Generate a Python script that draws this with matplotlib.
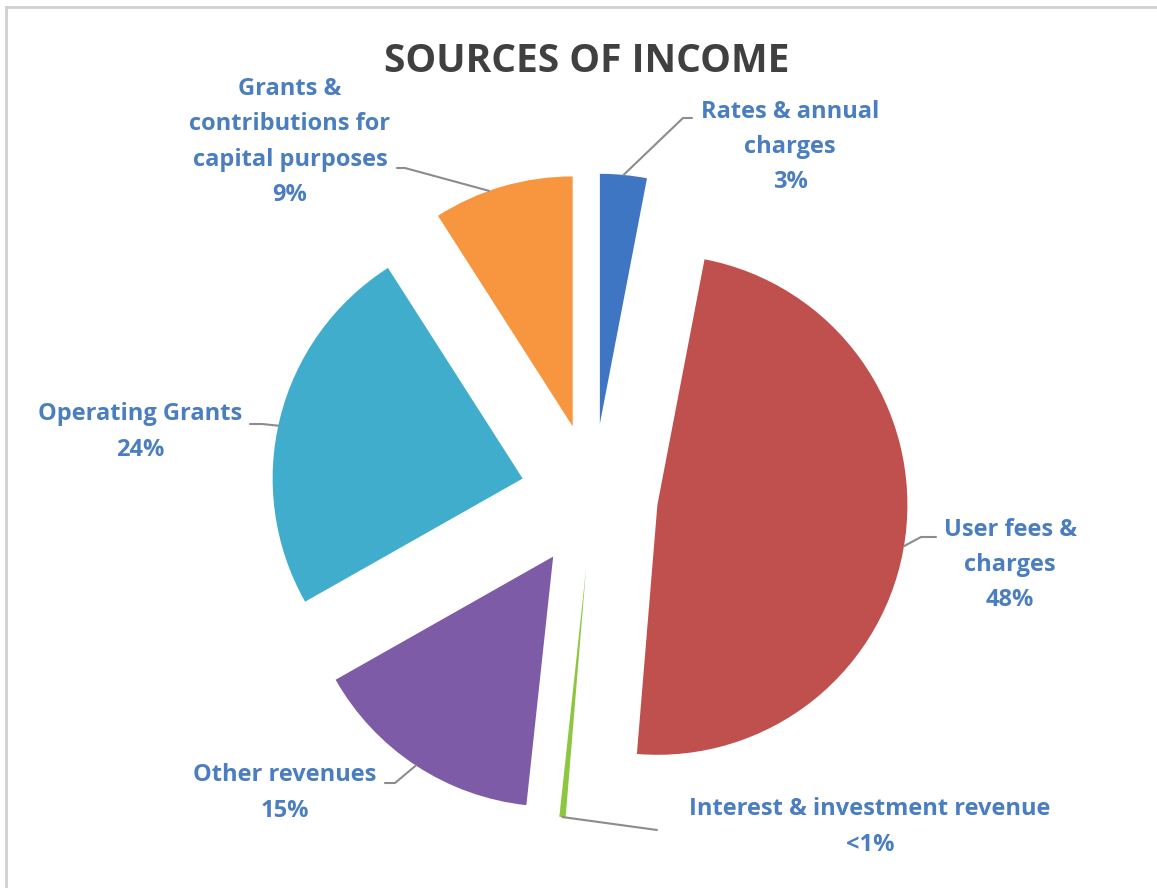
import numpy as np
import matplotlib
matplotlib.use("Agg")
import matplotlib.pyplot as plt
from matplotlib.lines import Line2D

plt.rcParams['font.family'] = ['Open Sans', 'DejaVu Sans']

# data, clockwise from 12 o'clock
categories = ["Rates & annual\ncharges", "User fees &\ncharges", "Interest & investment revenue",
              "Other revenues", "Operating Grants", "Grants &\ncontributions for\ncapital purposes"]
shares = [3, 48, 0.4, 15, 24, 9]
pct_text = ["3%", "48%", "<1%", "15%", "24%", "9%"]
colors = ["#3F76C4", "#C0504D", "#8DC63F", "#7D5BA6", "#3FADCB", "#F7963F"]

# layout (pixels in the 1157x888 image)
W, H = 1157, 888
cx, cy, R = 593, 496, 250
label_pos = [(790, 147), (1010, 565), (870, 827), (285, 793), (140, 432), (290, 142)]
# where the leader line meets the label (elbow, end)
leader = [[(683, 118), (692, 118)],
          [(921, 537), (936, 537)],
          [(657, 830)],
          [(395, 783), (385, 783)],
          [(262, 424), (250, 424)],
          [(405, 168), (397, 168)]]
anchor_frac = [0.5, 0.49, 0.5, 0.5, 0.52, 0.6]
explode = [0.29, 0.26, 0.29, 0.29, 0.29, 0.29]


def px(x, y):
    return (x - cx) / R, (cy - y) / R


fig = plt.figure(figsize=(W / 100, H / 100), dpi=100)
ax = fig.add_axes([0, 0, 1, 1])
wedges, _ = ax.pie(shares, colors=colors, startangle=90, counterclock=False,
                   explode=explode, radius=1)
ax.set_xlim(-cx / R, (W - cx) / R)
ax.set_ylim(-(H - cy) / R, cy / R)
ax.set_aspect('equal')
ax.axis('off')

lab_col = "#4A7EC0"
for i, w in enumerate(wedges):
    # point on the wedge's outer arc
    th = np.deg2rad(w.theta1 + (w.theta2 - w.theta1) * anchor_frac[i])
    x0 = w.center[0] + w.r * np.cos(th)
    y0 = w.center[1] + w.r * np.sin(th)
    pts = [(x0, y0)] + [px(*p) for p in leader[i]]
    xs, ys = zip(*pts)
    ax.plot(xs, ys, color="#8C8C8C", lw=1.5, solid_capstyle='round')
    tx, ty = px(*label_pos[i])
    ax.text(tx, ty, categories[i] + "\n" + pct_text[i], ha='center', va='center',
            fontsize=17, fontweight='bold', color=lab_col, linespacing=1.62)

fig.text(587 / W, 1 - 62 / H, "SOURCES OF INCOME", ha='center', va='center',
         fontsize=28, fontweight='bold', color="#404040")

# thin frame on top and left like the screenshot
fig.add_artist(Line2D([6 / W, 1], [1 - 7 / H, 1 - 7 / H], color="#D0D0D0", lw=2))
fig.add_artist(Line2D([6 / W, 6 / W], [0, 1 - 7 / H], color="#D0D0D0", lw=2))

fig.savefig("out.png", dpi=100, facecolor="white")
